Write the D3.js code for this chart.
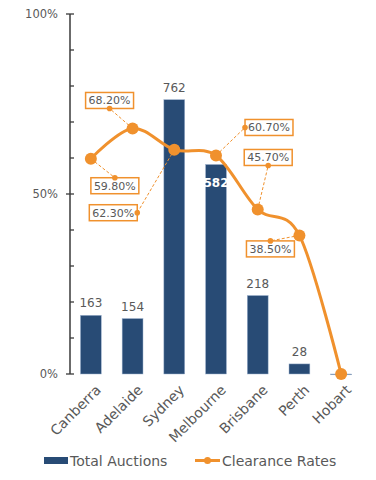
<!DOCTYPE html>
<html>
<head>
<meta charset="utf-8">
<script src="https://cdn.jsdelivr.net/npm/d3@7"></script>
<style>
  html, body { margin: 0; padding: 0; background: #fff; }
  svg { display: block; font-family: "DejaVu Sans", sans-serif; }
</style>
</head>
<body>
<svg id="chart" width="376" height="480"></svg>
<script>
// ---- data ----
const categories = ["Canberra", "Adelaide", "Sydney", "Melbourne", "Brisbane", "Perth", "Hobart"];
const totalAuctions = [163, 154, 762, 582, 218, 28, 0];
const clearanceRates = [59.8, 68.2, 62.3, 60.7, 45.7, 38.5, 0];
const yTickValues = [0, 10, 20, 30, 40, 50, 60, 70, 80, 90, 100];
const yTickLabels = ["0%", "", "", "", "", "50%", "", "", "", "", "100%"];
const legendLabels = ["Total Auctions", "Clearance Rates"];

// ---- layout (not data) ----
const labelLayout = [
  { dx: 24, dy: 27, side: "top" },
  { dx: -23, dy: -28, side: "bottom" },
  { dx: -61, dy: 63, side: "right" },
  { dx: 53, dy: -28, side: "left" },
  { dx: 10.5, dy: -52, side: "bottom" },
  { dx: -29, dy: 13.5, side: "top" },
  null
];

const BAR = "#284b75";
const ORANGE = "#f0912d";
const TEXT = "#595959";

const svg = d3.select("#chart");
const x = d3.scaleBand().domain(categories).range([70, 362]).paddingInner(0.5).paddingOuter(0.25);
const yPct = d3.scaleLinear().domain([0, 100]).range([374, 14]);
const yBar = d3.scaleLinear().domain([0, 1000]).range([374, 14]);

// y axis
const axisG = svg.append("g").attr("transform", "translate(70,0)");
axisG.append("line").attr("x1", 0).attr("x2", 0).attr("y1", yPct(0)).attr("y2", yPct(100))
  .attr("stroke", "#3a3a3a").attr("stroke-width", 1.5);
yTickValues.forEach((v, i) => {
  const major = yTickLabels[i] !== "";
  axisG.append("line").attr("x1", major ? -4 : 0).attr("x2", 4)
    .attr("y1", yPct(v)).attr("y2", yPct(v)).attr("stroke", "#3a3a3a").attr("stroke-width", 1.3);
  if (major) {
    axisG.append("text").attr("x", -12).attr("y", yPct(v)).attr("dy", "0.35em")
      .attr("text-anchor", "end").attr("font-size", 11.5).attr("fill", TEXT).text(yTickLabels[i]);
  }
});

// bars
svg.append("g").selectAll("rect").data(categories).join("rect")
  .attr("x", d => x(d)).attr("width", x.bandwidth())
  .attr("y", (d, i) => yBar(totalAuctions[i]))
  .attr("height", (d, i) => Math.max(0.8, yBar(0) - yBar(totalAuctions[i])))
  .attr("fill", BAR).attr("stroke", "#9fb4cf").attr("stroke-width", 0.5);

// bar value labels
svg.append("g").selectAll("text").data(categories).join("text")
  .filter((d, i) => totalAuctions[i] > 0)
  .attr("x", d => x(d) + x.bandwidth() / 2)
  .attr("y", d => {
    const i = categories.indexOf(d);
    return d === "Melbourne" ? yBar(totalAuctions[i]) + 23 : yBar(totalAuctions[i]) - 8;
  })
  .attr("text-anchor", "middle").attr("font-size", 12)
  .attr("font-weight", d => d === "Melbourne" ? "bold" : "normal")
  .attr("fill", d => d === "Melbourne" ? "#ffffff" : TEXT)
  .text(d => totalAuctions[categories.indexOf(d)]);

// line
const pts = categories.map((c, i) => [x(c) + x.bandwidth() / 2, yPct(clearanceRates[i])]);
svg.append("path").attr("d", d3.line().curve(d3.curveCardinal.tension(0))(pts))
  .attr("fill", "none").attr("stroke", ORANGE).attr("stroke-width", 3);

// data labels with leader lines
const lblG = svg.append("g");
pts.forEach((p, i) => {
  const L = labelLayout[i];
  if (!L) return;
  const cx = p[0] + L.dx, cy = p[1] + L.dy;
  const t = lblG.append("text").attr("x", cx).attr("y", cy).attr("dy", "0.36em")
    .attr("text-anchor", "middle").attr("font-size", 11).attr("fill", TEXT)
    .text(clearanceRates[i].toFixed(2) + "%");
  const w = t.node().getComputedTextLength() + 6, h = 16;
  let ax = cx, ay = cy;
  if (L.side === "top") ay = cy - h / 2;
  if (L.side === "bottom") ay = cy + h / 2;
  if (L.side === "left") ax = cx - w / 2;
  if (L.side === "right") ax = cx + w / 2;
  lblG.insert("line", "text").attr("x1", p[0]).attr("y1", p[1]).attr("x2", ax).attr("y2", ay)
    .attr("stroke", ORANGE).attr("stroke-width", 1).attr("stroke-dasharray", "3,2");
  lblG.insert("rect", "text").attr("x", cx - w / 2).attr("y", cy - h / 2).attr("width", w).attr("height", h)
    .attr("fill", "#fff").attr("stroke", ORANGE).attr("stroke-width", 1.5);
  lblG.append("circle").attr("cx", ax).attr("cy", ay).attr("r", 2.8).attr("fill", ORANGE);
});

// points
svg.append("g").selectAll("circle").data(pts).join("circle")
  .attr("cx", d => d[0]).attr("cy", d => d[1]).attr("r", 6).attr("fill", ORANGE);

// x labels
svg.append("g").selectAll("text").data(categories).join("text")
  .attr("transform", d => `translate(${x(d) + x.bandwidth() / 2 + 4},${384}) rotate(-45)`)
  .attr("text-anchor", "end").attr("dy", "0.7em").attr("font-size", 14).attr("fill", TEXT).text(d => d);

// legend
const lg = svg.append("g");
lg.append("rect").attr("x", 44).attr("y", 457).attr("width", 24).attr("height", 7).attr("fill", BAR);
lg.append("text").attr("x", 70).attr("y", 461).attr("dy", "0.35em").attr("font-size", 14).attr("fill", TEXT).text(legendLabels[0]);
lg.append("line").attr("x1", 195).attr("x2", 220).attr("y1", 460.5).attr("y2", 460.5).attr("stroke", ORANGE).attr("stroke-width", 3);
lg.append("circle").attr("cx", 207.5).attr("cy", 460.5).attr("r", 3.5).attr("fill", ORANGE);
lg.append("text").attr("x", 222).attr("y", 461).attr("dy", "0.35em").attr("font-size", 14).attr("fill", TEXT).text(legendLabels[1]);
</script>
</body>
</html>
